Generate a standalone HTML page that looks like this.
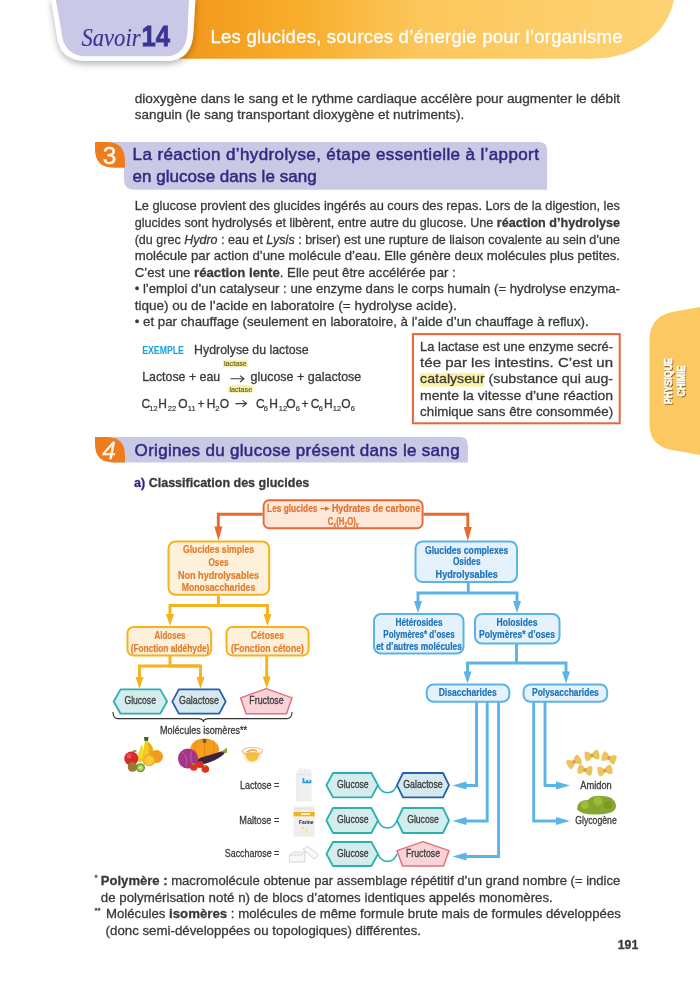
<!DOCTYPE html>
<html><head><meta charset="utf-8"><style>
html,body{margin:0;padding:0;background:#fff;width:700px;height:985px;overflow:hidden}
svg{display:block;font-family:"Liberation Sans",sans-serif;will-change:transform}
</style></head><body>
<svg width="700" height="985" viewBox="0 0 700 985">
<defs>
<linearGradient id="og" x1="0" x2="1" y1="0" y2="0">
<stop offset="0" stop-color="#f29518"/><stop offset="0.26" stop-color="#f8ae2c"/><stop offset="0.5" stop-color="#fcc75c"/><stop offset="1" stop-color="#fdd375"/></linearGradient>
<filter id="sh" x="-20%" y="-20%" width="140%" height="160%"><feGaussianBlur in="SourceAlpha" stdDeviation="3.5"/><feOffset dy="3"/><feComponentTransfer><feFuncA type="linear" slope="0.3"/></feComponentTransfer><feMerge><feMergeNode/><feMergeNode in="SourceGraphic"/></feMerge></filter>
<filter id="ts"><feGaussianBlur in="SourceAlpha" stdDeviation="0.6"/><feOffset dx="0.8" dy="0.8"/><feComponentTransfer><feFuncA type="linear" slope="0.5"/></feComponentTransfer><feMerge><feMergeNode/><feMergeNode in="SourceGraphic"/></feMerge></filter>
</defs>
<path d="M170 0 H674 C668 30 640 58.7 592 58.7 H170 Z" fill="url(#og)"/>
<path d="M51 -2 H195.5 L193.5 32 Q192 61 166 61 H86 Q58.5 61 56.5 32 Z" fill="#fff" filter="url(#sh)"/>
<path d="M55.5 -2 H189 L187.5 32 Q186 56.3 165 56.3 H87 Q63 56.3 61.2 30 Z" fill="#c9c8e6"/>
<text x="81.5" y="46.2" font-size="26" fill="#3b3494" stroke="#3b3494" stroke-width="0.15" textLength="59" lengthAdjust="spacingAndGlyphs" font-style="italic" font-family="Liberation Serif">Savoir</text>
<text x="141.5" y="46.3" font-size="29" fill="#3b3494" stroke="#3b3494" stroke-width="0.8" textLength="28.5" lengthAdjust="spacingAndGlyphs" font-weight="bold" >14</text>
<text x="210.5" y="43.3" font-size="18.5" fill="#fff" stroke="#fff" stroke-width="0.3" textLength="412" lengthAdjust="spacing" >Les glucides, sources d’énergie pour l’organisme</text>
<text x="134.7" y="102.6" font-size="13.6" fill="#393939" stroke="#393939" stroke-width="0.3" textLength="485.3" lengthAdjust="spacingAndGlyphs" >dioxygène dans le sang et le rythme cardiaque accélère pour augmenter le débit</text>
<text x="134.7" y="119.3" font-size="13.6" fill="#393939" stroke="#393939" stroke-width="0.3" textLength="329.5" lengthAdjust="spacingAndGlyphs" >sanguin (le sang transportant dioxygène et nutriments).</text>
<path d="M113 142.1 H539 Q547.1 142.1 547.1 150 V189.7 H134 Q124 189.7 124 180 V168 H113 Z" fill="#cac9e5"/>
<path d="M95 142.1 H107 Q125 142.1 125 161 V167.6 H113 Q95 167.6 95 149 Z" fill="#ef7b1f"/>
<text x="109.5" y="164" font-size="24.5" fill="#fdf6e8" stroke="#fdf6e8" stroke-width="0.5" text-anchor="middle" >3</text>
<text x="132.6" y="160.4" font-size="17" fill="#2e2a80" stroke="#2e2a80" stroke-width="0.5" textLength="406.3" lengthAdjust="spacing" >La réaction d’hydrolyse, étape essentielle à l’apport</text>
<text x="132.6" y="182.1" font-size="17" fill="#2e2a80" stroke="#2e2a80" stroke-width="0.5" textLength="184" lengthAdjust="spacing" >en glucose dans le sang</text>
<text x="134.7" y="210.4" font-size="13.6" fill="#393939" stroke="#393939" stroke-width="0.3" textLength="485.3" lengthAdjust="spacingAndGlyphs" >Le glucose provient des glucides ingérés au cours des repas. Lors de la digestion, les</text>
<text x="134.7" y="227.1" font-size="13.6" fill="#393939" stroke="#393939" stroke-width="0.3" textLength="485.3" lengthAdjust="spacingAndGlyphs" >glucides sont hydrolysés et libèrent, entre autre du glucose. Une <tspan font-weight="bold">réaction d’hydrolyse</tspan></text>
<text x="134.7" y="243.6" font-size="13.6" fill="#393939" stroke="#393939" stroke-width="0.3" textLength="485.3" lengthAdjust="spacingAndGlyphs" >(du grec <tspan font-style="italic">Hydro</tspan> : eau et <tspan font-style="italic">Lysis</tspan> : briser) est une rupture de liaison covalente au sein d’une</text>
<text x="134.7" y="260.0" font-size="13.6" fill="#393939" stroke="#393939" stroke-width="0.3" textLength="485.3" lengthAdjust="spacingAndGlyphs" >molécule par action d’une molécule d’eau. Elle génère deux molécules plus petites.</text>
<text x="134.7" y="276.7" font-size="13.6" fill="#393939" stroke="#393939" stroke-width="0.3" textLength="321" lengthAdjust="spacingAndGlyphs" >C’est une <tspan font-weight="bold">réaction lente</tspan>. Elle peut être accélérée par :</text>
<text x="134.7" y="293.3" font-size="13.6" fill="#393939" stroke="#393939" stroke-width="0.3" textLength="485.3" lengthAdjust="spacingAndGlyphs" >• l’emploi d’un catalyseur : une enzyme dans le corps humain (= hydrolyse enzyma-</text>
<text x="134.7" y="310.0" font-size="13.6" fill="#393939" stroke="#393939" stroke-width="0.3" textLength="322" lengthAdjust="spacingAndGlyphs" >tique) ou de l’acide en laboratoire (= hydrolyse acide).</text>
<text x="134.7" y="326.1" font-size="13.6" fill="#393939" stroke="#393939" stroke-width="0.3" textLength="454" lengthAdjust="spacingAndGlyphs" >• et par chauffage (seulement en laboratoire, à l’aide d’un chauffage à reflux).</text>
<text x="142.2" y="353.5" font-size="10.3" fill="#1ea0d9" textLength="41.7" lengthAdjust="spacingAndGlyphs" font-weight="bold" >EXEMPLE</text>
<text x="194.1" y="353.5" font-size="13" fill="#393939" stroke="#393939" stroke-width="0.3" textLength="114.5" lengthAdjust="spacingAndGlyphs" >Hydrolyse du lactose</text>
<rect x="223" y="360.2" width="24.8" height="7.2" fill="#f7f0a6"/>
<text x="224" y="366.3" font-size="7.5" fill="#6b5a2a" stroke="#6b5a2a" stroke-width="0.15" textLength="22.8" lengthAdjust="spacingAndGlyphs" >lactase</text>
<text x="142.2" y="381" font-size="13" fill="#393939" stroke="#393939" stroke-width="0.3" textLength="78" lengthAdjust="spacingAndGlyphs" >Lactose + eau</text>
<path d="M230.5 378.8 H244 M240 375.6 L244 378.8 L240 382.0" fill="none" stroke="#3b3b3b" stroke-width="1.1"/>
<text x="250.5" y="381" font-size="13" fill="#393939" stroke="#393939" stroke-width="0.3" textLength="110.8" lengthAdjust="spacingAndGlyphs" >glucose + galactose</text>
<rect x="228.4" y="385.6" width="24.6" height="7.2" fill="#f7f0a6"/>
<text x="229.4" y="391.7" font-size="7.5" fill="#6b5a2a" stroke="#6b5a2a" stroke-width="0.15" textLength="22.8" lengthAdjust="spacingAndGlyphs" >lactase</text>
<text x="141.6" y="407.8" font-size="12" fill="#393939" stroke="#393939" stroke-width="0.3" >C</text>
<text x="149.3" y="410.6" font-size="7.5" fill="#393939" stroke="#393939" stroke-width="0.2" >12</text>
<text x="158.3" y="407.8" font-size="12" fill="#393939" stroke="#393939" stroke-width="0.3" >H</text>
<text x="167.8" y="410.6" font-size="7.5" fill="#393939" stroke="#393939" stroke-width="0.2" >22</text>
<text x="178.2" y="407.8" font-size="12" fill="#393939" stroke="#393939" stroke-width="0.3" >O</text>
<text x="187.8" y="410.6" font-size="7.5" fill="#393939" stroke="#393939" stroke-width="0.2" >11</text>
<text x="197.5" y="407.8" font-size="12" fill="#393939" stroke="#393939" stroke-width="0.3" >+</text>
<text x="206.8" y="407.8" font-size="12" fill="#393939" stroke="#393939" stroke-width="0.3" >H</text>
<text x="215.3" y="410.6" font-size="7.5" fill="#393939" stroke="#393939" stroke-width="0.2" >2</text>
<text x="219.8" y="407.8" font-size="12" fill="#393939" stroke="#393939" stroke-width="0.3" >O</text>
<path d="M235.5 403.6 H246.5 M242.5 400.40000000000003 L246.5 403.6 L242.5 406.8" fill="none" stroke="#3b3b3b" stroke-width="1.1"/>
<text x="255.9" y="407.8" font-size="12" fill="#393939" stroke="#393939" stroke-width="0.3" >C</text>
<text x="263.8" y="410.6" font-size="7.5" fill="#393939" stroke="#393939" stroke-width="0.2" >6</text>
<text x="269.3" y="407.8" font-size="12" fill="#393939" stroke="#393939" stroke-width="0.3" >H</text>
<text x="278.8" y="410.6" font-size="7.5" fill="#393939" stroke="#393939" stroke-width="0.2" >12</text>
<text x="286.3" y="407.8" font-size="12" fill="#393939" stroke="#393939" stroke-width="0.3" >O</text>
<text x="295.8" y="410.6" font-size="7.5" fill="#393939" stroke="#393939" stroke-width="0.2" >6</text>
<text x="301.5" y="407.8" font-size="12" fill="#393939" stroke="#393939" stroke-width="0.3" >+</text>
<text x="310.8" y="407.8" font-size="12" fill="#393939" stroke="#393939" stroke-width="0.3" >C</text>
<text x="318.8" y="410.6" font-size="7.5" fill="#393939" stroke="#393939" stroke-width="0.2" >6</text>
<text x="324" y="407.8" font-size="12" fill="#393939" stroke="#393939" stroke-width="0.3" >H</text>
<text x="332.8" y="410.6" font-size="7.5" fill="#393939" stroke="#393939" stroke-width="0.2" >12</text>
<text x="341.3" y="407.8" font-size="12" fill="#393939" stroke="#393939" stroke-width="0.3" >O</text>
<text x="350.8" y="410.6" font-size="7.5" fill="#393939" stroke="#393939" stroke-width="0.2" >6</text>
<rect x="412.9" y="334.1" width="206.8" height="89.2" fill="none" stroke="#e8643a" stroke-width="2"/>
<rect x="419.6" y="372.9" width="64.6" height="13.7" fill="#faf3a3"/>
<text x="420.1" y="351.4" font-size="13.6" fill="#393939" stroke="#393939" stroke-width="0.3" textLength="193" lengthAdjust="spacingAndGlyphs" >La lactase est une enzyme secré-</text>
<text x="420.1" y="367.4" font-size="13.6" fill="#393939" stroke="#393939" stroke-width="0.3" textLength="193" lengthAdjust="spacingAndGlyphs" >tée par les intestins. C’est un</text>
<text x="420.1" y="383.1" font-size="13.6" fill="#393939" stroke="#393939" stroke-width="0.3" textLength="193" lengthAdjust="spacingAndGlyphs" >catalyseur (substance qui aug-</text>
<text x="420.1" y="400.0" font-size="13.6" fill="#393939" stroke="#393939" stroke-width="0.3" textLength="193" lengthAdjust="spacingAndGlyphs" >mente la vitesse d’une réaction</text>
<text x="420.1" y="415.7" font-size="13.6" fill="#393939" stroke="#393939" stroke-width="0.3" textLength="193" lengthAdjust="spacingAndGlyphs" >chimique sans être consommée)</text>
<path d="M700 307 L672 312 Q649.5 317 649.5 340 V424 Q649.5 446 672 450 L700 455 Z" fill="#fbc862"/>
<g filter="url(#ts)" stroke="#fff" stroke-width="0.35"><text transform="translate(671.5 381) rotate(-90)" font-size="10.5" font-weight="bold" fill="#fff" text-anchor="middle" textLength="46" lengthAdjust="spacingAndGlyphs">PHYSIQUE</text><text transform="translate(684.5 381) rotate(-90)" font-size="10.5" font-weight="bold" fill="#fff" text-anchor="middle" textLength="31" lengthAdjust="spacingAndGlyphs">CHIMIE</text></g>
<path d="M113 437.1 H460 Q467.9 437.1 467.9 445 V462.4 H113 Z" fill="#cac9e5"/>
<path d="M95 437.1 H107 Q125 437.1 125 456 V462.4 H113 Q95 462.4 95 444 Z" fill="#ef7b1f"/>
<text x="109" y="458.8" font-size="24.5" fill="#fdf6e8" stroke="#fdf6e8" stroke-width="0.3" text-anchor="middle" font-style="italic">4</text>
<text x="134.6" y="455.7" font-size="17" fill="#2e2a80" stroke="#2e2a80" stroke-width="0.5" textLength="325" lengthAdjust="spacing" >Origines du glucose présent dans le sang</text>
<text x="134.1" y="487.1" font-size="13" fill="#393939" stroke="#393939" stroke-width="0.3" textLength="175.2" lengthAdjust="spacingAndGlyphs" font-weight="bold" ><tspan fill="#2e2a80" stroke="#2e2a80">a)</tspan> Classification des glucides</text>
<path d="M262.7 514.3 L218.3 514.3 L218.3 528" fill="none" stroke="#e8692b" stroke-width="2.9" stroke-linejoin="miter"/>
<path d="M214.4 526.6 L222.4 526.6 L218.4 540.6 Z" fill="#e8692b"/>
<path d="M423.5 514.3 L467.8 514.3 L467.8 528" fill="none" stroke="#e8692b" stroke-width="2.9" stroke-linejoin="miter"/>
<path d="M463.8 527 L471.8 527 L467.8 541 Z" fill="#e8692b"/>
<rect x="263.6" y="500.2" width="159.0" height="28.099999999999966" rx="5.5" fill="#fde7d8" stroke="#e8692b" stroke-width="1.9"/>
<text x="267.1" y="512" font-size="10.5" fill="#e5702e" text-anchor="start" stroke="#e5702e" stroke-width="0.2" textLength="50.3" lengthAdjust="spacingAndGlyphs" font-weight="bold">Les glucides</text>
<path d="M320.5 508.6 H326" stroke="#e5702e" stroke-width="1.3"/><path d="M325 506.2 L329.8 508.6 L325 511Z" fill="#e5702e"/>
<text x="331.9" y="512" font-size="10.5" fill="#e5702e" text-anchor="start" stroke="#e5702e" stroke-width="0.2" textLength="88.5" lengthAdjust="spacingAndGlyphs" font-weight="bold">Hydrates de carbone</text>
<text x="327.7" y="524.5" font-size="10.5" fill="#e5702e" text-anchor="start" stroke="#e5702e" stroke-width="0.2" textLength="31" lengthAdjust="spacingAndGlyphs" font-weight="bold">C<tspan font-size="7" dy="2">x</tspan><tspan dy="-2">(H</tspan><tspan font-size="7" dy="2">2</tspan><tspan dy="-2">O)</tspan><tspan font-size="7" dy="2">y</tspan></text>
<path d="M218.4 595.6 L218.4 605.5" fill="none" stroke="#f6b21b" stroke-width="2.9" stroke-linejoin="miter"/>
<path d="M170 616 L170 605.5 L267.5 605.5 L267.5 616" fill="none" stroke="#f6b21b" stroke-width="2.9" stroke-linejoin="miter"/>
<path d="M166.0 614 L174.0 614 L170 626 Z" fill="#f6b21b"/>
<path d="M263.5 614 L271.5 614 L267.5 626 Z" fill="#f6b21b"/>
<rect x="168.5" y="541.5" width="100.69999999999999" height="53.299999999999955" rx="7" fill="#fdf1dc" stroke="#f6b21b" stroke-width="2"/>
<text x="218.5" y="553" font-size="10.2" fill="#e27d2c" text-anchor="middle" stroke="#e27d2c" stroke-width="0.2" textLength="71" lengthAdjust="spacingAndGlyphs" font-weight="bold">Glucides simples</text>
<text x="218.5" y="565.6" font-size="10.2" fill="#e27d2c" text-anchor="middle" stroke="#e27d2c" stroke-width="0.2" textLength="20" lengthAdjust="spacingAndGlyphs" font-weight="bold">Oses</text>
<text x="218.5" y="578.6" font-size="10.2" fill="#e27d2c" text-anchor="middle" stroke="#e27d2c" stroke-width="0.2" textLength="81" lengthAdjust="spacingAndGlyphs" font-weight="bold">Non hydrolysables</text>
<text x="218.5" y="591" font-size="10.2" fill="#e27d2c" text-anchor="middle" stroke="#e27d2c" stroke-width="0.2" textLength="73.6" lengthAdjust="spacingAndGlyphs" font-weight="bold">Monosaccharides</text>
<rect x="127.5" y="627" width="83.69999999999999" height="28.600000000000023" rx="6" fill="#fdf1dc" stroke="#f6b21b" stroke-width="2"/>
<text x="170" y="638.5" font-size="10.2" fill="#e27d2c" text-anchor="middle" stroke="#e27d2c" stroke-width="0.2" textLength="31" lengthAdjust="spacingAndGlyphs" font-weight="bold">Aldoses</text>
<text x="170" y="652" font-size="10.2" fill="#e27d2c" text-anchor="middle" stroke="#e27d2c" stroke-width="0.2" textLength="78.6" lengthAdjust="spacingAndGlyphs" font-weight="bold">(Fonction aldéhyde)</text>
<rect x="226.5" y="627" width="82.10000000000002" height="28.600000000000023" rx="6" fill="#fdf1dc" stroke="#f6b21b" stroke-width="2"/>
<text x="267.5" y="638.5" font-size="10.2" fill="#e27d2c" text-anchor="middle" stroke="#e27d2c" stroke-width="0.2" textLength="33" lengthAdjust="spacingAndGlyphs" font-weight="bold">Cétoses</text>
<text x="267.5" y="652" font-size="10.2" fill="#e27d2c" text-anchor="middle" stroke="#e27d2c" stroke-width="0.2" textLength="73" lengthAdjust="spacingAndGlyphs" font-weight="bold">(Fonction cétone)</text>
<path d="M170 656 L170 666 L200 666" fill="none" stroke="#f6b21b" stroke-width="2.9" stroke-linejoin="miter"/>
<path d="M139.5 677 L139.5 666 L200.5 666 L200.5 677" fill="none" stroke="#f6b21b" stroke-width="2.9" stroke-linejoin="miter"/>
<path d="M135.5 677 L143.5 677 L139.5 689 Z" fill="#f6b21b"/>
<path d="M196.5 677 L204.5 677 L200.5 689 Z" fill="#f6b21b"/>
<path d="M266.7 656 L266.7 677" fill="none" stroke="#f6b21b" stroke-width="2.9" stroke-linejoin="miter"/>
<path d="M262.7 676.5 L270.7 676.5 L266.7 688.5 Z" fill="#f6b21b"/>
<path d="M113.7 701.55 L120.60000000000001 689.4 L160.2 689.4 L167.1 701.55 L160.2 713.7 L120.60000000000001 713.7 Z" fill="#d4ecec" stroke="#2bb0b2" stroke-width="1.8" stroke-linejoin="round"/>
<text x="140.2" y="704.3" font-size="10.2" fill="#3a3a3a" text-anchor="middle" stroke="#3a3a3a" stroke-width="0.3" textLength="31.4" lengthAdjust="spacingAndGlyphs">Glucose</text>
<path d="M172.3 701.55 L178.8 689.4 L219.2 689.4 L225.7 701.55 L219.2 713.7 L178.8 713.7 Z" fill="#d5e9ee" stroke="#2361ad" stroke-width="1.8" stroke-linejoin="round"/>
<text x="199" y="704.3" font-size="10.2" fill="#3a3a3a" text-anchor="middle" stroke="#3a3a3a" stroke-width="0.3" textLength="40" lengthAdjust="spacingAndGlyphs">Galactose</text>
<path d="M266.3 688.6 L292 697.8870000000001 L286.5 713.7 L246.1 713.7 L240.6 697.8870000000001 Z" fill="#f8d3d8" stroke="#e4707c" stroke-width="1.5" stroke-linejoin="round"/>
<text x="266.5" y="704.3" font-size="10.2" fill="#3a3a3a" text-anchor="middle" stroke="#3a3a3a" stroke-width="0.3" textLength="34.3" lengthAdjust="spacingAndGlyphs">Fructose</text>
<path d="M113 712 Q113 718.6 118 718.6 L198 718.6 Q203.4 718.6 203.4 722 Q203.4 718.6 209 718.6 L287 718.6 Q292 718.6 292 712" fill="none" stroke="#333" stroke-width="1.1"/>
<text x="203.5" y="733.7" font-size="10.2" fill="#3a3a3a" text-anchor="middle" stroke="#3a3a3a" stroke-width="0.3" textLength="87" lengthAdjust="spacingAndGlyphs">Molécules isomères**</text>
<path d="M468.3 582 L468.3 593" fill="none" stroke="#5cb3e5" stroke-width="2.9" stroke-linejoin="miter"/>
<path d="M418 602 L418 593 L517 593 L517 602" fill="none" stroke="#5cb3e5" stroke-width="2.9" stroke-linejoin="miter"/>
<path d="M414.0 601 L422.0 601 L418 613 Z" fill="#5cb3e5"/>
<path d="M513.0 601 L521.0 601 L517 613 Z" fill="#5cb3e5"/>
<rect x="415.5" y="541.5" width="101.5" height="40.5" rx="7" fill="#e6f2fb" stroke="#5cb3e5" stroke-width="2"/>
<text x="466.7" y="553.6" font-size="10.2" fill="#1d72b8" text-anchor="middle" stroke="#1d72b8" stroke-width="0.2" textLength="83.4" lengthAdjust="spacingAndGlyphs" font-weight="bold">Glucides complexes</text>
<text x="466.7" y="565.2" font-size="10.2" fill="#1d72b8" text-anchor="middle" stroke="#1d72b8" stroke-width="0.2" textLength="27.6" lengthAdjust="spacingAndGlyphs" font-weight="bold">Osides</text>
<text x="466.7" y="578" font-size="10.2" fill="#1d72b8" text-anchor="middle" stroke="#1d72b8" stroke-width="0.2" textLength="62.2" lengthAdjust="spacingAndGlyphs" font-weight="bold">Hydrolysables</text>
<rect x="374" y="614" width="89.5" height="39.5" rx="7" fill="#e6f2fb" stroke="#5cb3e5" stroke-width="2"/>
<text x="419" y="626" font-size="10.2" fill="#1d72b8" text-anchor="middle" stroke="#1d72b8" stroke-width="0.2" textLength="47" lengthAdjust="spacingAndGlyphs" font-weight="bold">Hétérosides</text>
<text x="419" y="637.9" font-size="10.2" fill="#1d72b8" text-anchor="middle" stroke="#1d72b8" stroke-width="0.2" textLength="71.4" lengthAdjust="spacingAndGlyphs" font-weight="bold">Polymères* d’oses</text>
<text x="419" y="650.4" font-size="10.2" fill="#1d72b8" text-anchor="middle" stroke="#1d72b8" stroke-width="0.2" textLength="85.6" lengthAdjust="spacingAndGlyphs" font-weight="bold">et d’autres molécules</text>
<rect x="475" y="614" width="84.5" height="29.5" rx="7" fill="#e6f2fb" stroke="#5cb3e5" stroke-width="2"/>
<text x="517" y="626" font-size="10.2" fill="#1d72b8" text-anchor="middle" stroke="#1d72b8" stroke-width="0.2" textLength="41" lengthAdjust="spacingAndGlyphs" font-weight="bold">Holosides</text>
<text x="517" y="637.9" font-size="10.2" fill="#1d72b8" text-anchor="middle" stroke="#1d72b8" stroke-width="0.2" textLength="76" lengthAdjust="spacingAndGlyphs" font-weight="bold">Polymères* d’oses</text>
<path d="M516.5 644 L516.5 663" fill="none" stroke="#5cb3e5" stroke-width="2.9" stroke-linejoin="miter"/>
<path d="M467.5 672 L467.5 663 L566 663 L566 672" fill="none" stroke="#5cb3e5" stroke-width="2.9" stroke-linejoin="miter"/>
<path d="M463.5 671.5 L471.5 671.5 L467.5 683.5 Z" fill="#5cb3e5"/>
<path d="M562.0 671.5 L570.0 671.5 L566 683.5 Z" fill="#5cb3e5"/>
<rect x="426.7" y="684.5" width="82.60000000000002" height="17.299999999999955" rx="7" fill="#e6f2fb" stroke="#5cb3e5" stroke-width="2"/>
<text x="467.7" y="695.8" font-size="10.2" fill="#1d72b8" text-anchor="middle" stroke="#1d72b8" stroke-width="0.2" textLength="58" lengthAdjust="spacingAndGlyphs" font-weight="bold">Disaccharides</text>
<rect x="523.5" y="684.5" width="83.70000000000005" height="17.299999999999955" rx="7" fill="#e6f2fb" stroke="#5cb3e5" stroke-width="2"/>
<text x="565.4" y="695.8" font-size="10.2" fill="#1d72b8" text-anchor="middle" stroke="#1d72b8" stroke-width="0.2" textLength="66.8" lengthAdjust="spacingAndGlyphs" font-weight="bold">Polysaccharides</text>
<path d="M476.6 702 L476.6 785.5 L465 785.5" fill="none" stroke="#5cb3e5" stroke-width="2.9" stroke-linejoin="miter"/>
<path d="M466.5 781.5 L466.5 789.5 L452.5 785.5 Z" fill="#5cb3e5"/>
<path d="M487.2 702 L487.2 821 L465 821" fill="none" stroke="#5cb3e5" stroke-width="2.9" stroke-linejoin="miter"/>
<path d="M466.5 817.0 L466.5 825.0 L452.5 821 Z" fill="#5cb3e5"/>
<path d="M498.6 702 L498.6 856.5 L465 856.5" fill="none" stroke="#5cb3e5" stroke-width="2.9" stroke-linejoin="miter"/>
<path d="M466.5 852.5 L466.5 860.5 L452.5 856.5 Z" fill="#5cb3e5"/>
<path d="M545 702 L545 785.5 L558 785.5" fill="none" stroke="#5cb3e5" stroke-width="2.9" stroke-linejoin="miter"/>
<path d="M556 781.5 L556 789.5 L570 785.5 Z" fill="#5cb3e5"/>
<path d="M533.7 702 L533.7 821 L558 821" fill="none" stroke="#5cb3e5" stroke-width="2.9" stroke-linejoin="miter"/>
<path d="M556 817.0 L556 825.0 L570 821 Z" fill="#5cb3e5"/>
<path d="M378 785.2 C382 795.2 393 795.2 397 785.2" fill="none" stroke="#2bb0b2" stroke-width="1.6"/>
<path d="M326.4 785.2 L333.0 773 L371.4 773 L378 785.2 L371.4 797.4 L333.0 797.4 Z" fill="#d4ecec" stroke="#2bb0b2" stroke-width="1.8" stroke-linejoin="round"/>
<text x="352.8" y="788.4" font-size="10.2" fill="#3a3a3a" text-anchor="middle" stroke="#3a3a3a" stroke-width="0.3" textLength="31.6" lengthAdjust="spacingAndGlyphs">Glucose</text>
<path d="M397 785.2 L403 773 L443 773 L449 785.2 L443 797.4 L403 797.4 Z" fill="#d5e9ee" stroke="#2361ad" stroke-width="1.8" stroke-linejoin="round"/>
<text x="423" y="788.4" font-size="10.2" fill="#3a3a3a" text-anchor="middle" stroke="#3a3a3a" stroke-width="0.3" textLength="39.4" lengthAdjust="spacingAndGlyphs">Galactose</text>
<text x="279.3" y="788.6" font-size="10.6" fill="#3a3a3a" text-anchor="end" stroke="#3a3a3a" stroke-width="0.3" textLength="39.3" lengthAdjust="spacingAndGlyphs">Lactose =</text>
<path d="M378 820.5 C382 830.5 393 830.5 397 820.5" fill="none" stroke="#2bb0b2" stroke-width="1.6"/>
<path d="M326.4 820.5 L333.0 808 L371.4 808 L378 820.5 L371.4 833 L333.0 833 Z" fill="#d4ecec" stroke="#2bb0b2" stroke-width="1.8" stroke-linejoin="round"/>
<text x="352.8" y="823.4" font-size="10.2" fill="#3a3a3a" text-anchor="middle" stroke="#3a3a3a" stroke-width="0.3" textLength="31.6" lengthAdjust="spacingAndGlyphs">Glucose</text>
<path d="M397 820.5 L403 808 L443 808 L449 820.5 L443 833 L403 833 Z" fill="#d4ecec" stroke="#2bb0b2" stroke-width="1.8" stroke-linejoin="round"/>
<text x="423" y="823.4" font-size="10.2" fill="#3a3a3a" text-anchor="middle" stroke="#3a3a3a" stroke-width="0.3" textLength="31.6" lengthAdjust="spacingAndGlyphs">Glucose</text>
<text x="279.3" y="823.6" font-size="10.6" fill="#3a3a3a" text-anchor="end" stroke="#3a3a3a" stroke-width="0.3" textLength="40" lengthAdjust="spacingAndGlyphs">Maltose =</text>
<path d="M378 854.0 C382 864.0 393 864.0 397 854.0" fill="none" stroke="#2bb0b2" stroke-width="1.6"/>
<path d="M326.4 854.0 L333.0 842 L371.4 842 L378 854.0 L371.4 866 L333.0 866 Z" fill="#d4ecec" stroke="#2bb0b2" stroke-width="1.8" stroke-linejoin="round"/>
<text x="352.8" y="857.4" font-size="10.2" fill="#3a3a3a" text-anchor="middle" stroke="#3a3a3a" stroke-width="0.3" textLength="31.6" lengthAdjust="spacingAndGlyphs">Glucose</text>
<path d="M423.0 841.6 L449 850.628 L443.5 866 L402.5 866 L397 850.628 Z" fill="#f8d3d8" stroke="#e4707c" stroke-width="1.5" stroke-linejoin="round"/>
<text x="423" y="856.6" font-size="10.2" fill="#3a3a3a" text-anchor="middle" stroke="#3a3a3a" stroke-width="0.3" textLength="34" lengthAdjust="spacingAndGlyphs">Fructose</text>
<text x="279.3" y="856.5" font-size="10.6" fill="#3a3a3a" text-anchor="end" stroke="#3a3a3a" stroke-width="0.3" textLength="54.5" lengthAdjust="spacingAndGlyphs">Saccharose =</text>
<text x="596" y="788.8" font-size="10.6" fill="#3a3a3a" text-anchor="middle" stroke="#3a3a3a" stroke-width="0.3" textLength="31.5" lengthAdjust="spacingAndGlyphs">Amidon</text>
<text x="596" y="823.8" font-size="10.6" fill="#3a3a3a" text-anchor="middle" stroke="#3a3a3a" stroke-width="0.3" textLength="41.5" lengthAdjust="spacingAndGlyphs">Glycogène</text>
<g>
<path d="M145 740 Q152 744 151 753 Q149 760 141 762 Q136 762 137 758 Q143 754 144 747Z" fill="#f2cc1c"/>
<path d="M147 741 Q155 746 153 755 Q150 761 144 762 Q149 755 149 748Z" fill="#e5b012"/>
<path d="M141 744 Q146 750 141 758 Q137 761 135 759 Q140 753 141 744Z" fill="#f7da3a"/>
<path d="M144 737 h4.5 l-0.5 4 h-3.5z" fill="#44621c"/>
<circle cx="156.5" cy="756.5" r="6.5" fill="#f39a1c"/>
<ellipse cx="149" cy="760.5" rx="6.3" ry="5.8" fill="#f7a81e"/>
<ellipse cx="149" cy="760.5" rx="4.8" ry="4.4" fill="#fcc93c"/>
<circle cx="131.3" cy="758.5" r="7" fill="#d82a2a"/>
<circle cx="129" cy="756" r="2.5" fill="#e65050"/>
<path d="M132 751.5 q3 -2.5 5 -0.5 q-2 2 -5 0.5z" fill="#6aa82a"/>
<circle cx="132.5" cy="767" r="4.8" fill="#9a7a2e"/>
<circle cx="140.5" cy="767.8" r="4.5" fill="#5c9a26"/>
<circle cx="140.5" cy="767.8" r="3.2" fill="#a8cc4a"/>
<circle cx="140.5" cy="767.8" r="1.2" fill="#f4f4d0"/>
</g>
<g>
<ellipse cx="204.6" cy="749.5" rx="14.5" ry="11" fill="#f59e1e"/>
<path d="M196 741 Q193 750 198 758 M204.6 739 V759 M213 741 Q216 750 211 758" stroke="#e48416" stroke-width="0.9" fill="none"/>
<path d="M202.5 739 h4 l-0.5 4 h-3z" fill="#7a5a2e"/>
<path d="M199 765 Q213 763 223 755 Q227 751 224 750.5 Q214 754 201 757.5 Q194 761 199 765Z" fill="#3a2442"/>
<path d="M221 752 l6 -4.5 l0 5.5z" fill="#7cb03a"/>
<circle cx="188" cy="758.6" r="10" fill="#a4358a"/>
<path d="M182 752 Q188 756 186 766 M192 751 Q189 758 193 765" stroke="#c75aa8" stroke-width="1" fill="none"/>
<circle cx="193.8" cy="767" r="3.8" fill="#e0321e"/>
<circle cx="200" cy="764.5" r="3.6" fill="#dc2e1c"/>
<circle cx="205.3" cy="769" r="3.8" fill="#e0321e"/>
<circle cx="193.3" cy="764" r="1.2" fill="#6aa82a"/>
<circle cx="205" cy="766" r="1.2" fill="#6aa82a"/>
</g>
<g>
<path d="M242 751 Q243 763 252.3 763 Q261.5 763 262.5 751Z" fill="#fdf0cc"/>
<path d="M245 753.5 Q246.5 761.5 252.3 761.5 Q258 761.5 259.5 753.5 Q252 750 245 753.5Z" fill="#f9c23a"/>
<path d="M247 752 q5 -4 10 -1" stroke="#f4a012" stroke-width="1.4" fill="none"/>
<ellipse cx="252.3" cy="751" rx="10.3" ry="3.6" fill="none" stroke="#d8b48c" stroke-width="0.9"/>
</g>
<g>
<path d="M296 774.5 L300 768.8 H310 L311.7 773 V801.6 H296Z" fill="#efefef"/>
<path d="M296 774.5 H311.7" stroke="#dcdcdc" stroke-width="0.7"/>
<path d="M298 801.6 V775 M296 774.5 L300 768.8" stroke="#e2e2e2" stroke-width="0.6" fill="none"/>
<path d="M302.5 778 h1.8 v3.5 h2 v-1.8 h1.8 v1.8 h1.6 v-1.8 h1.6 v3.6 h-8.8z" fill="#2a9ede"/>
</g>
<g>
<path d="M293.6 808 Q294 806.2 296 806.2 H312.5 Q314.7 806.2 314.7 808.5 V836.7 H293.6Z" fill="#eeeeee"/>
<path d="M294 809.5 Q304 807.5 314.5 809.5" stroke="#d6d6d6" stroke-width="0.6" fill="none"/>
<rect x="293.6" y="812" width="21.1" height="4.3" fill="#f0b41c"/>
<rect x="301" y="813.2" width="9" height="1.8" fill="#fff3c8"/>
<text x="299" y="823.6" font-size="6.2" font-weight="bold" fill="#222" textLength="14.5" lengthAdjust="spacingAndGlyphs">Farine</text>
<circle cx="303" cy="828" r="1.2" fill="#f6e07a"/><circle cx="306.5" cy="830.5" r="1.2" fill="#f6e07a"/><circle cx="304" cy="832.5" r="1" fill="#f6e07a"/>
</g>
<g fill="#f8f8f8" stroke="#bdbdbd" stroke-width="0.6">
<path d="M289.5 855 L294 852 H305 V862 H289.5Z"/>
<path d="M289.5 855 H301 L305 852"/>
<path d="M303 849 L308 846.4 L318.6 855 L314 859 Z"/>
</g>
<g transform="translate(574 762) rotate(-30)"><path d="M0 -1 Q-3 -5.5 -6.5 -4.8 Q-8.5 0 -6.5 4.8 Q-3 5.5 0 1Z M0 -1 Q3 -5.5 6.5 -4.8 Q8.5 0 6.5 4.8 Q3 5.5 0 1Z" fill="#efc35c"/><ellipse rx="1.8" ry="2" fill="#d8a53c"/></g>
<g transform="translate(592 755.5) rotate(-10)"><path d="M0 -1 Q-3 -5.5 -6.5 -4.8 Q-8.5 0 -6.5 4.8 Q-3 5.5 0 1Z M0 -1 Q3 -5.5 6.5 -4.8 Q8.5 0 6.5 4.8 Q3 5.5 0 1Z" fill="#efc35c"/><ellipse rx="1.8" ry="2" fill="#d8a53c"/></g>
<g transform="translate(609 758) rotate(20)"><path d="M0 -1 Q-3 -5.5 -6.5 -4.8 Q-8.5 0 -6.5 4.8 Q-3 5.5 0 1Z M0 -1 Q3 -5.5 6.5 -4.8 Q8.5 0 6.5 4.8 Q3 5.5 0 1Z" fill="#efc35c"/><ellipse rx="1.8" ry="2" fill="#d8a53c"/></g>
<g transform="translate(585 770) rotate(10)"><path d="M0 -1 Q-3 -5.5 -6.5 -4.8 Q-8.5 0 -6.5 4.8 Q-3 5.5 0 1Z M0 -1 Q3 -5.5 6.5 -4.8 Q8.5 0 6.5 4.8 Q3 5.5 0 1Z" fill="#efc35c"/><ellipse rx="1.8" ry="2" fill="#d8a53c"/></g>
<g transform="translate(605 770.5) rotate(-12)"><path d="M0 -1 Q-3 -5.5 -6.5 -4.8 Q-8.5 0 -6.5 4.8 Q-3 5.5 0 1Z M0 -1 Q3 -5.5 6.5 -4.8 Q8.5 0 6.5 4.8 Q3 5.5 0 1Z" fill="#efc35c"/><ellipse rx="1.8" ry="2" fill="#d8a53c"/></g>
<g>
<path d="M577 809 Q577 800 588 800 Q592 795 602 796 Q615 796 616 806 Q616 814 598 814.5 Q580 815 577 809Z" fill="#86a62e"/>
<circle cx="585" cy="805" r="4" fill="#9cbc3c"/>
<circle cx="598" cy="801" r="4.5" fill="#9cbc3c"/>
<circle cx="608" cy="805" r="4" fill="#7a9a22"/>
</g>
<text x="94.5" y="880" font-size="8" fill="#393939" stroke="#393939" stroke-width="0.3" >*</text>
<text x="100.8" y="885.1" font-size="13.6" fill="#393939" stroke="#393939" stroke-width="0.3" textLength="519.5" lengthAdjust="spacingAndGlyphs" ><tspan font-weight="bold">Polymère :</tspan> macromolécule obtenue par assemblage répétitif d’un grand nombre (= indice</text>
<text x="100.8" y="901.7" font-size="13.6" fill="#393939" stroke="#393939" stroke-width="0.3" textLength="452" lengthAdjust="spacingAndGlyphs" >de polymérisation noté n) de blocs d’atomes identiques appelés monomères.</text>
<text x="94.5" y="913" font-size="8" fill="#393939" stroke="#393939" stroke-width="0.3" >**</text>
<text x="105.9" y="918" font-size="13.6" fill="#393939" stroke="#393939" stroke-width="0.3" textLength="515" lengthAdjust="spacingAndGlyphs" >Molécules <tspan font-weight="bold">isomères</tspan> : molécules de même formule brute mais de formules développées</text>
<text x="105.6" y="934.8" font-size="13.6" fill="#393939" stroke="#393939" stroke-width="0.3" textLength="315.4" lengthAdjust="spacingAndGlyphs" >(donc semi-développées ou topologiques) différentes.</text>
<text x="617.7" y="949" font-size="12.5" fill="#393939" stroke="#393939" stroke-width="0.3" textLength="20.6" lengthAdjust="spacingAndGlyphs" font-weight="bold" >191</text>
</svg></body></html>
